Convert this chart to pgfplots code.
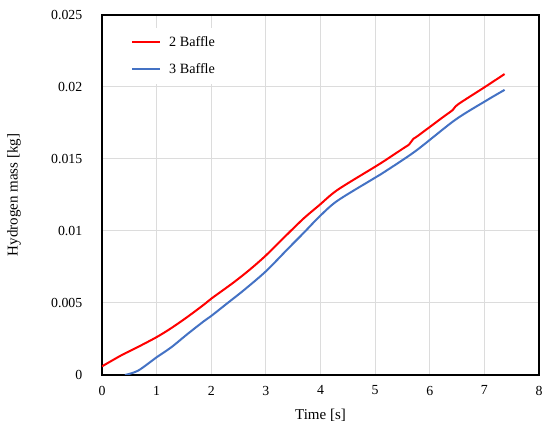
\documentclass[border=0pt]{standalone}
\usepackage{pgfplots}
\pgfplotsset{compat=1.18}
\usepackage{fontspec}
\setmainfont{Liberation Serif}
\definecolor{exred}{RGB}{255,0,0}
\definecolor{exblue}{RGB}{68,114,196}
\definecolor{gridgray}{RGB}{220,220,220}
\begin{document}
\begin{tikzpicture}
\begin{axis}[
  name=ax,
  scale only axis,
  width=262.2pt, height=216pt,
  xmin=0, xmax=8, ymin=0, ymax=0.025,
  xtick={0,1,...,8},
  ytick={0,0.005,0.01,0.015,0.02,0.025},
  yticklabels={0,0.005,0.01,0.015,0.02,0.025},
  major tick length=0pt,
  grid=major,
  major grid style={gridgray, line width=0.6pt},
  axis line style={black, line width=1.1pt},
  tick label style={font=\fontsize{8.3}{10}\selectfont},
  /pgf/number format/assume math mode=true,
  yticklabel style={xshift=-8.3pt},
  xticklabel style={yshift=-3pt},
  scaled y ticks=false,
  xlabel={Time [s]},
  ylabel={Hydrogen mass [kg]},
  label style={font=\fontsize{9}{10.8}\selectfont},
  xlabel style={at={(axis description cs:0.5,-0.111)}, anchor=center},
  ylabel style={at={(axis description cs:-0.2014,0.5)}, anchor=center},
  legend style={at={(axis description cs:0.055,0.965)}, anchor=north west,
    draw=none, fill=white, font=\fontsize{8.5}{10}\selectfont,
    row sep=4.6pt, inner sep=3pt},
  legend cell align=left,
  legend image code/.code={\draw[#1] (0cm,0cm) -- (0.58cm,0cm);},
]
\addplot[exred, line width=1.2pt, smooth, tension=0.5] coordinates {
(0,0.0006) (0.36,0.00138) (0.66,0.00195) (1.0,0.00263) (1.27,0.00326)
(1.57,0.00405) (1.87,0.0049) (2.0,0.0053) (2.4,0.0064) (2.7,0.0073)
(3.0,0.0083) (3.4,0.0098) (3.7,0.0109) (3.98,0.0118) (4.31,0.01285)
(4.99,0.01444) (5.17,0.01487) (5.54,0.0158) (5.62,0.0160) (5.70,0.0164)
(5.78,0.0166) (6.24,0.0179) (6.42,0.0184) (6.52,0.0188) (7.01,0.0200)
(7.37,0.0209)
};
\addlegendentry{\hspace{3pt}2 Baffle}
\addplot[exblue, line width=1.2pt, smooth, tension=0.5] coordinates {
(0.42,0.0) (0.66,0.0003) (1.0,0.00123) (1.27,0.00193) (1.57,0.00286)
(1.87,0.00375) (2.0,0.0041) (2.3,0.0050) (2.6,0.0059) (3.0,0.0072)
(3.4,0.00875) (3.7,0.0099) (3.98,0.0110) (4.31,0.0121) (4.99,0.01368)
(5.17,0.0141) (5.74,0.01555) (6.46,0.0177) (7.01,0.0190) (7.37,0.0198)
};
\addlegendentry{\hspace{3pt}3 Baffle}
\end{axis}
\path (ax.south west) ++(-61.2pt,-34.2pt) rectangle ++(330pt,259.2pt);
\end{tikzpicture}
\end{document}
